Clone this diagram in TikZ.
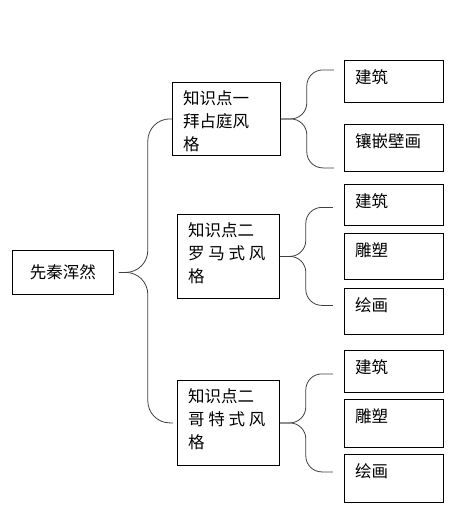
\documentclass[tikz,border=0pt]{standalone}
\usepackage{fontspec}
\setmainfont{Noto Sans CJK SC}
\begin{document}
\begin{tikzpicture}[x=1pt,y=-1pt,font=\fontsize{16.5}{23}\selectfont,
		box/.style={draw,line width=0.8pt,anchor=north west,inner sep=0pt},
		txt/.style={anchor=north west,inner sep=0pt,align=left},
		brace/.style={draw=black!75,line width=0.8pt}]
	\useasboundingbox (0,0) rectangle (468,522);
	% 小框: 名字, 上边, 高度, 文字
	\def\subbox#1#2#3#4{
		\node[box,minimum width=99pt,minimum height=#3pt] (#1) at (344,#2) {};
		\node[txt] (#1t) at ([xshift=11pt,yshift=-9pt]#1.north west) {#4};
	}
	% 根节点
	\node[box,minimum width=101pt,minimum height=44pt] (root) at (12,250) {先秦浑然};
	% 三个知识点
	\node[box,minimum width=108pt,minimum height=73pt] (byz) at (172,82) {};
	\node[txt] (byzt) at ([xshift=11pt,yshift=-8pt]byz.north west) {知识点一\\拜占庭风\\格};
	\node[box,minimum width=102pt,minimum height=84pt] (rom) at (177,214) {};
	\node[txt] (romt) at ([xshift=11pt,yshift=-8pt]rom.north west) {知识点二\\罗 马 式 风\\格};
	\node[box,minimum width=102pt,minimum height=85pt] (got) at (177,380) {};
	\node[txt] (gott) at ([xshift=11pt,yshift=-8pt]got.north west) {知识点二\\哥 特 式 风\\格};
	% 右边各项
	\subbox{byz1}{60}{42}{建筑}
	\subbox{byz2}{124}{47}{镶嵌壁画}
	\subbox{rom1}{184}{41}{建筑}
	\subbox{rom2}{233}{46}{雕塑}
	\subbox{rom3}{288}{46}{绘画}
	\subbox{got1}{350}{42}{建筑}
	\subbox{got2}{399}{48}{雕塑}
	\subbox{got3}{454}{48}{绘画}
	% 大括号
	\draw[brace,rounded corners=22pt] ([xshift=5pt]root.east) -- ++(29,0) |- (byz.west);
	\draw[brace,rounded corners=22pt] ([xshift=5pt]root.east) -- ++(29,0) |- ([xshift=-4pt]got.west);
	\foreach \p in {byz,rom,got}{
		\draw[brace,rounded corners=16pt] (\p.east) -- ++(26,0) |- ++(27,-49);
		\draw[brace,rounded corners=16pt] (\p.east) -- ++(26,0) |- ++(27,49);
	}
\end{tikzpicture}
\end{document}
